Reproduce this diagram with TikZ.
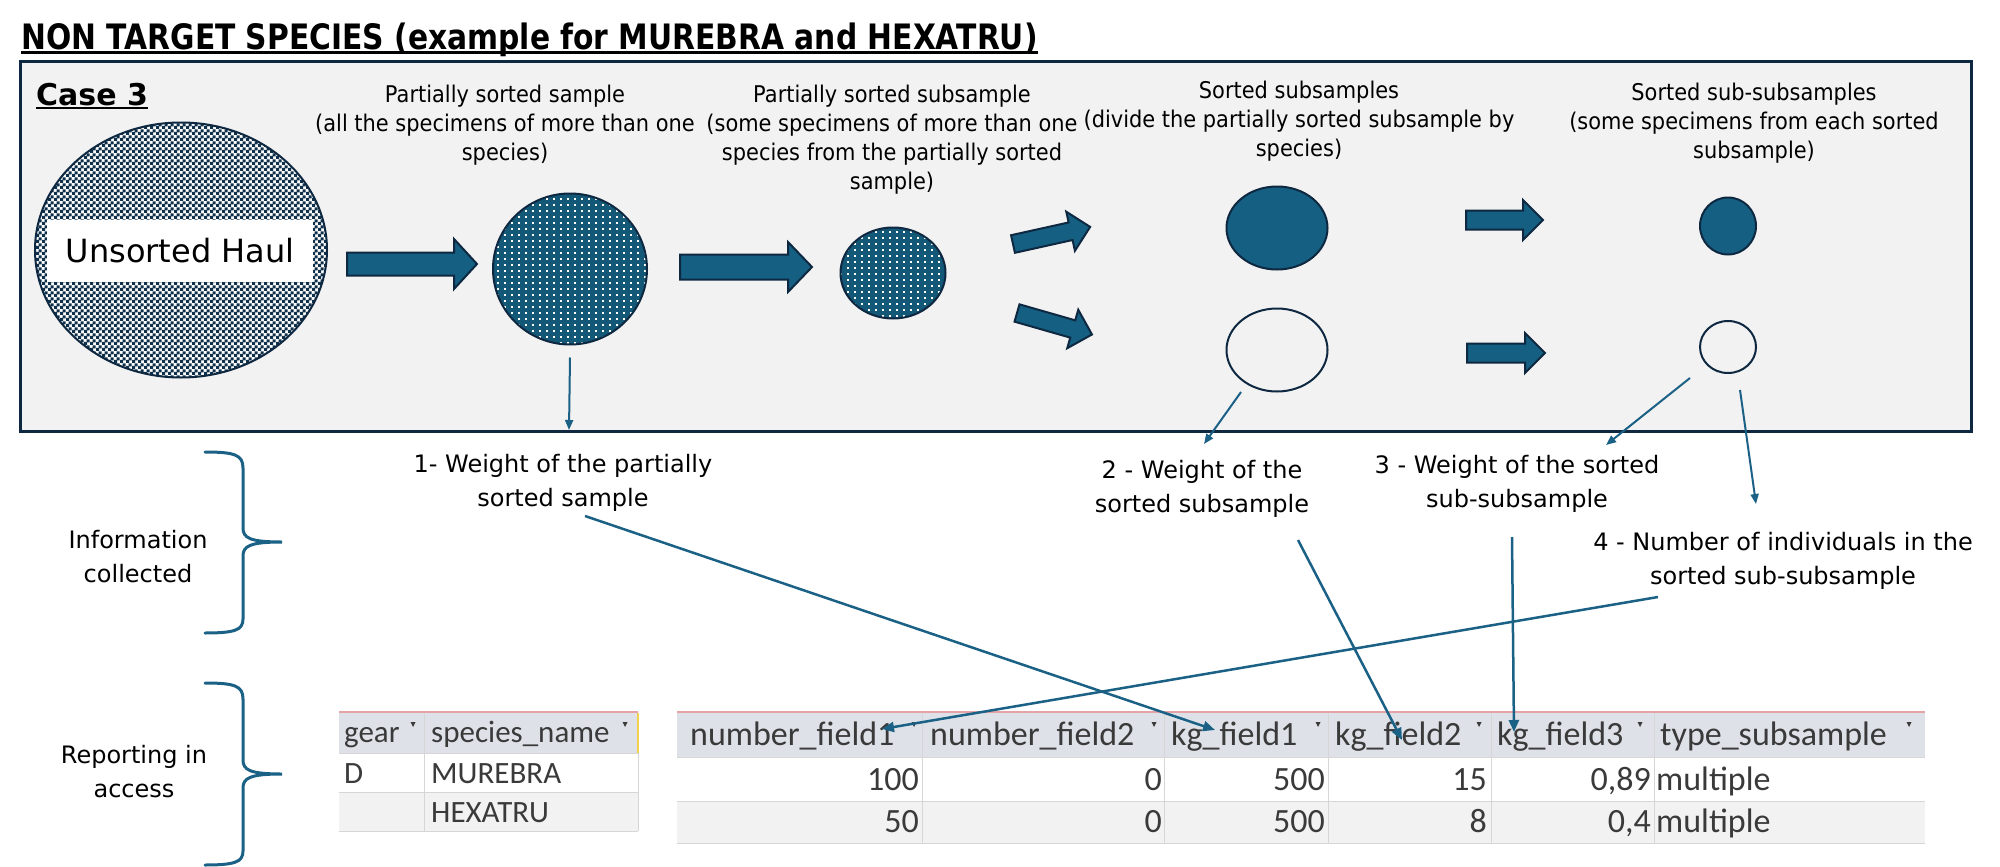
\documentclass[tikz,border=0pt]{standalone}
\usepackage{fontspec}
\setmainfont{DejaVu Sans}
\newfontfamily\narrowfont[FakeStretch=0.91]{DejaVu Sans}
\newfontfamily\titlefont[FakeStretch=0.85]{DejaVu Sans}
\newfontfamily\tablefont{Carlito}
\usetikzlibrary{shapes.geometric,arrows.meta,patterns.meta}

\definecolor{darknavy}{HTML}{0E2841}
\definecolor{oceanblue}{HTML}{156082}
\definecolor{linkblue}{HTML}{1B6186}
\definecolor{panelgray}{HTML}{F2F2F2}
\definecolor{headgray}{HTML}{DEE2E8}
\definecolor{rowgray}{HTML}{F2F2F2}
\definecolor{gridgray}{HTML}{D6D6D6}
\definecolor{tabtext}{HTML}{3A3A3A}
\definecolor{tabred}{HTML}{E5A3A8}
\definecolor{tabyellow}{HTML}{F2D24B}

% textures of the mixed samples
\tikzdeclarepattern{
  name=haulcheck,
  type=uncolored,
  bounding box={(0pt,0pt) and (6pt,6pt)},
  tile size={(6pt,6pt)},
  code={
    \fill (0pt,0pt) rectangle (3.5pt,3.5pt);
    \fill (3pt,3pt) rectangle (6.5pt,6.5pt);
  }
}
\tikzdeclarepattern{
  name=whitegrid,
  type=uncolored,
  bounding box={(0pt,0pt) and (7pt,5.5pt)},
  tile size={(7pt,5.5pt)},
  code={\fill (0pt,0pt) rectangle (2pt,2pt);}
}

% block arrow: tail point, angle, length, shaft half, head half, head length
\newcommand{\blockarrow}[6]{%
  \draw[blockarr, shift={(#1)}, rotate=#2]
    (0,-#4) -- ({#3-#6},-#4) -- ({#3-#6},-#5) -- (#3,0)
    -- ({#3-#6},#5) -- ({#3-#6},#4) -- (0,#4) -- cycle;}

\begin{document}
\begin{tikzpicture}[x=1pt,y=-1pt,
  panel/.style={fill=panelgray, draw=darknavy, line width=3},
  blob/.style={ellipse, draw=darknavy, line width=2, inner sep=0},
  dotblob/.style={blob, preaction={fill=oceanblue!85!darknavy}, pattern=whitegrid, pattern color=white},
  solidblob/.style={blob, fill=oceanblue},
  emptyblob/.style={blob},
  blockarr/.style={fill=oceanblue, draw=darknavy, line width=2},
  head/.style={font=\narrowfont\fontsize{23}{29}\selectfont, align=center, inner sep=0, anchor=north},
  infotext/.style={font=\fontsize{24}{34}\selectfont, align=center, inner sep=0, anchor=north},
  conn/.style={draw=linkblue, line width=2.5, -{Triangle[length=12pt,width=10pt]}},
  thinconn/.style={draw=linkblue, line width=2, -{Triangle[length=10pt,width=8pt]}},
  brace/.style={draw=linkblue, line width=3, line cap=round},
  lcell/.style={font=\tablefont\fontsize{31}{36}\selectfont, text=tabtext, inner sep=0, anchor=base west},
  rcell/.style={font=\tablefont\fontsize{34}{40}\selectfont, text=tabtext, inner sep=0},
]
\useasboundingbox (0,0) rectangle (2000,867);
\fill[white] (0,0) rectangle (2000,867);

% Title
\node[font=\titlefont\bfseries\fontsize{35}{42}\selectfont, anchor=base west, inner sep=0] (title) at (21,49)
  {NON TARGET SPECIES (example for MUREBRA and HEXATRU)};
\draw[line width=2.2] ([yshift=-3.5]title.base west) -- ([yshift=-3.5]title.base east);

% Case panel
\draw[panel] (20,62) rectangle (1971,431);
\node[font=\bfseries\fontsize{30}{36}\selectfont, anchor=base west, inner sep=0] (case) at (36,105) {Case 3};
\draw[line width=2] ([yshift=-3]case.base west) -- ([yshift=-3]case.base east);

% Samples
\node[blob, preaction={fill=white}, pattern=haulcheck, pattern color=darknavy!85!oceanblue,
  minimum width=292, minimum height=255] (haul) at (181,250) {};
\node[fill=white, minimum width=266, minimum height=62, inner sep=0,
  font=\fontsize{32}{38}\selectfont] (haultext) at (180,251) {Unsorted Haul};
\node[dotblob, minimum width=154, minimum height=151] (sample) at (570,269) {};
\node[dotblob, minimum width=105, minimum height=91] (subsample) at (893,273) {};
\node[solidblob, minimum width=101, minimum height=83] (sortedA) at (1277,228) {};
\node[emptyblob, minimum width=101, minimum height=83] (sortedB) at (1277,350) {};
\node[solidblob, minimum width=56, minimum height=57] (subsubA) at (1728,226) {};
\node[emptyblob, minimum width=56, minimum height=52] (subsubB) at (1728,347) {};

% Block arrows
\blockarrow{347,264}{0}{130}{11.5}{25}{23}
\blockarrow{680,267}{0}{132}{12.5}{25}{24}
\blockarrow{1013,244}{12.5}{79}{9}{20}{20}
\blockarrow{1017,313}{-16}{78}{9}{20}{20}
\blockarrow{1466,220}{0}{77}{9.5}{20}{20}
\blockarrow{1467,353}{0}{78}{9.5}{20}{20}

% Step headings
\node[head] (hsample) at (505,85) {Partially sorted sample\\(all the specimens of more than one\\species)};
\node[head] (hsub) at (892,85) {Partially sorted subsample\\(some specimens of more than one\\species from the partially sorted\\sample)};
\node[head] (hsorted) at (1299,81) {Sorted subsamples\\(divide the partially sorted subsample by\\species)};
\node[head] (hsubsub) at (1754,83) {Sorted sub-subsamples\\(some specimens from each sorted\\subsample)};

% Information collected
\node[infotext] (w1) at (563,454) {1- Weight of the partially\\sorted sample};
\node[infotext] (w2) at (1202,460) {2 - Weight of the\\sorted subsample};
\node[infotext] (w3) at (1517,455) {3 - Weight of the sorted\\sub-subsample};
\node[infotext] (n4) at (1783,532) {4 - Number of individuals in the\\sorted sub-subsample};
\node[infotext] (info) at (138,530) {Information\\collected};
\node[infotext] (report) at (134,745) {Reporting in\\access};

% Braces
\draw[brace] (205,452) .. controls (235,452) and (243,455) .. (243,468) -- (243,528)
  .. controls (243,538) and (250,542) .. (282,542) .. controls (250,542) and (243,546) .. (243,556)
  -- (243,619) .. controls (243,630) and (235,633) .. (205,633);
\draw[brace] (205,683) .. controls (235,683) and (243,686) .. (243,699) -- (243,760)
  .. controls (243,770) and (250,774) .. (282,774) .. controls (250,774) and (243,778) .. (243,788)
  -- (243,851) .. controls (243,862) and (235,865) .. (205,865);

% Left table
\fill[headgray] (339,712) rectangle (638,753);
\fill[white] (339,753) rectangle (638,792);
\fill[rowgray] (339,792) rectangle (638,831);
\draw[gridgray, line width=1] (424,712) -- (424,831) (339,753) -- (638,753) (339,792) -- (638,792)
  (339,831) -- (638,831) (638,753) -- (638,831);
\draw[tabred, line width=2] (339,712) -- (638,712);
\draw[tabyellow, line width=2] (638,713) -- (638,753);
\node[lcell] (lgear) at (344,742) {gear};
\node[lcell] (lspecies) at (431,742) {species\_name};
\node[lcell] (lgearA) at (344,783) {D};
\node[lcell] (lspA) at (431,783) {MUREBRA};
\node[lcell] (lspB) at (431,822) {HEXATRU};

% Right table
\fill[headgray] (677,712) rectangle (1925,757);
\fill[white] (677,757) rectangle (1925,801);
\fill[rowgray] (677,801) rectangle (1925,843);
\foreach \cx in {922,1164,1328,1491,1654}
  \draw[gridgray, line width=1] (\cx,712) -- (\cx,843);
\draw[gridgray, line width=1] (677,757) -- (1925,757) (677,801) -- (1925,801) (677,843) -- (1925,843);
\draw[tabred, line width=2] (677,712) -- (1925,712);
\node[rcell, anchor=base west] (hnum1) at (690,745) {number\_field1};
\node[rcell, anchor=base west] (hnum2) at (930,745) {number\_field2};
\node[rcell, anchor=base west] (hkg1) at (1171,745) {kg\_field1};
\node[rcell, anchor=base west] (hkg2) at (1335,745) {kg\_field2};
\node[rcell, anchor=base west] (hkg3) at (1497,745) {kg\_field3};
\node[rcell, anchor=base west] (htype) at (1660,745) {type\_subsample};
\node[rcell, anchor=base east] (vnum1a) at (919,790) {100};
\node[rcell, anchor=base east] (vnum2a) at (1162,790) {0};
\node[rcell, anchor=base east] (vkg1a) at (1325,790) {500};
\node[rcell, anchor=base east] (vkg2a) at (1487,790) {15};
\node[rcell, anchor=base east] (vkg3a) at (1651,790) {0,89};
\node[rcell, anchor=base west] (vtypea) at (1656,790) {multiple};
\node[rcell, anchor=base east] (vnum1b) at (919,832) {50};
\node[rcell, anchor=base east] (vnum2b) at (1162,832) {0};
\node[rcell, anchor=base east] (vkg1b) at (1325,832) {500};
\node[rcell, anchor=base east] (vkg2b) at (1487,832) {8};
\node[rcell, anchor=base east] (vkg3b) at (1651,832) {0,4};
\node[rcell, anchor=base west] (vtypeb) at (1656,832) {multiple};
% filter marks
\foreach \mx in {413,625,914,1154,1318,1479,1640,1909}
  \fill[tabtext] (\mx-2.5,722) -- (\mx+2.5,722) -- (\mx,727) -- cycle;

% Connector ends
\coordinate (t1) at (569,430);
\coordinate (s2) at (1241,392); \coordinate (t2) at (1204,444);
\coordinate (s3) at (1690,378); \coordinate (t3) at (1606,445);
\coordinate (s4) at (1740,390); \coordinate (t4) at (1756,504);
\coordinate (u1) at (585,516);  \coordinate (k1) at (1215,730);
\coordinate (u2) at (1298,540); \coordinate (k2) at (1402,740);
\coordinate (u3) at (1512,537); \coordinate (k3) at (1514,732);
\coordinate (u4) at (1658,597); \coordinate (k4) at (882,729);

% Connectors
\draw[thinconn] ([yshift=-12]sample.south) -- (t1);
\draw[thinconn] (s2) -- (t2);
\draw[thinconn] (s3) -- (t3);
\draw[thinconn] (s4) -- (t4);
\draw[conn] (u1) -- (k1);
\draw[conn] (u2) -- (k2);
\draw[conn] (u3) -- (k3);
\draw[conn] (u4) -- (k4);
\end{tikzpicture}
\end{document}
